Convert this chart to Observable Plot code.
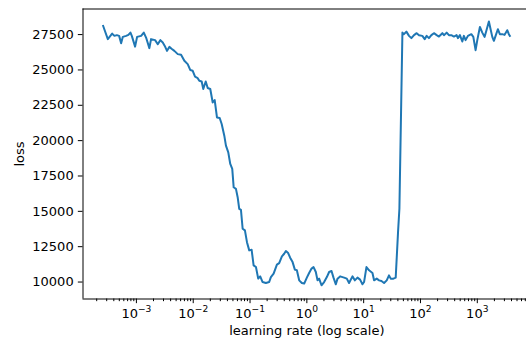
<!DOCTYPE html>
<html>
<head>
<meta charset="utf-8">
<script src="https://cdn.jsdelivr.net/npm/d3@7"></script>
<script src="https://cdn.jsdelivr.net/npm/@observablehq/plot@0.6"></script>
<style>
  html, body { margin: 0; padding: 0; background: #fff; }
  #chart { width: 526px; height: 349px; overflow: hidden; }
  #chart svg { overflow: hidden; }
</style>
</head>
<body>
<div id="chart"></div>
<script>
// Learning-rate range test: learning rate is 10 ** lrExponent.
const lrExponent = [
  -3.585, -3.503, -3.427, -3.387, -3.344, -3.304, -3.269, -3.239, -3.181, -3.141,
  -3.105, -3.081, -3.023, -2.988, -2.917, -2.870, -2.830, -2.772, -2.742, -2.671,
  -2.624, -2.578, -2.536, -2.501, -2.461, -2.420, -2.381, -2.332, -2.272, -2.214,
  -2.156, -2.097, -2.051, -2.009, -1.968, -1.921, -1.893, -1.851, -1.823, -1.780,
  -1.745, -1.700, -1.657, -1.622, -1.582, -1.534, -1.499, -1.453, -1.424, -1.383,
  -1.348, -1.313, -1.288, -1.248, -1.218, -1.190, -1.160, -1.130, -1.090, -1.054,
  -1.014, -0.972, -0.937, -0.896, -0.856, -0.821, -0.779, -0.721, -0.663, -0.633,
  -0.585, -0.527, -0.487, -0.439, -0.399, -0.369, -0.329, -0.294, -0.251, -0.211,
  -0.176, -0.135, -0.088, -0.047, 0.000, 0.040, 0.083, 0.118, 0.158, 0.188,
  0.216, 0.258, 0.304, 0.352, 0.392, 0.434, 0.469, 0.510, 0.540, 0.585,
  0.656, 0.703, 0.743, 0.803, 0.844, 0.891, 0.937, 0.979, 1.007, 1.049,
  1.095, 1.155, 1.183, 1.230, 1.271, 1.313, 1.359, 1.406, 1.446, 1.476,
  1.524, 1.564, 1.605, 1.629, 1.682, 1.710, 1.752, 1.798, 1.840, 1.886,
  1.933, 1.974, 2.033, 2.074, 2.109, 2.149, 2.192, 2.237, 2.285, 2.325,
  2.385, 2.413, 2.461, 2.501, 2.543, 2.589, 2.636, 2.659, 2.694, 2.736,
  2.764, 2.794, 2.835, 2.895, 2.930, 2.970, 3.000, 3.046, 3.088, 3.128,
  3.158, 3.204, 3.234, 3.264, 3.292, 3.322, 3.362, 3.397, 3.439, 3.480,
  3.527, 3.555, 3.573
];

const loss = [
  28110, 27180, 27570, 27410, 27460, 27410, 26890, 27340, 27410, 27480,
  27640, 27410, 26650, 27340, 27410, 27640, 27290, 26540, 27180, 27110,
  26820, 27110, 26940, 26700, 26350, 26630, 26500, 26350, 26120, 26070,
  25650, 25410, 24990, 24940, 24520, 24420, 24230, 24180, 23650, 24180,
  23720, 23650, 22700, 22870, 21640, 21600, 21180, 20350, 19650, 19170,
  18350, 18000, 16700, 16590, 16000, 15180, 15110, 13770, 13650, 12820,
  12240, 12280, 11180, 11060, 10240, 10400, 10000, 9930, 10000, 10350,
  10590, 11230, 11340, 11810, 12000, 12190, 12050, 11720, 11410, 10880,
  10830, 10120, 9930, 9890, 10310, 10640, 10950, 11060, 10710, 10120,
  10240, 9770, 10000, 10350, 10710, 10780, 10310, 9840, 10240, 10400,
  10310, 10240, 9930, 10400, 10120, 10310, 10170, 9840, 10000, 11060,
  10830, 10640, 10120, 10240, 10120, 10070, 9930, 10120, 10470, 10240,
  10240, 10310, 13530, 15180, 27640, 27530, 27710, 27410, 27250, 27460,
  27600, 27460, 27410, 27180, 27410, 27250, 27460, 27600, 27460, 27360,
  27600, 27460, 27640, 27460, 27460, 27360, 27460, 27250, 27460, 27010,
  27410, 27110, 27410, 27530, 27340, 26400, 27110, 28040, 27640, 27340,
  27760, 28420, 27880, 27340, 27060, 27410, 27880, 27530, 27530, 27480,
  27810, 27530, 27410
];

const yTickValues = [10000, 12500, 15000, 17500, 20000, 22500, 25000, 27500];
const xTickExponents = [-3, -2, -1, 0, 1, 2, 3];
const xLabel = "learning rate (log scale)";
const yLabel = "loss";

const data = lrExponent.map((e, i) => ({lr: 10 ** e, loss: loss[i]}));

const xDomain = [10 ** -3.94, 10 ** 3.94];
const yDomain = [8800, 29310];

const majorTicks = xTickExponents.map(e => 10 ** e);
const minorTicks = [];
for (let e = -4; e <= 3; e++) {
  for (let k = 2; k <= 9; k++) {
    const v = k * 10 ** e;
    if (v >= xDomain[0] && v <= xDomain[1]) minorTicks.push(v);
  }
}

const tickLen = 4.67;
const ink = "#000";

const chart = Plot.plot({
  width: 526,
  height: 349,
  marginLeft: 82.5,
  marginRight: 0,
  marginTop: 8.5,
  marginBottom: 50.5,
  style: {fontFamily: "'DejaVu Sans', sans-serif", fontSize: "13px", background: "white", color: ink},
  // the axes run a little past the right edge of the picture
  x: {type: "log", domain: xDomain, range: [82.5, 530.2]},
  y: {domain: yDomain},
  marks: [
    Plot.axisY({
      ticks: yTickValues, tickSize: tickLen, tickPadding: tickLen,
      tickFormat: d => String(d), label: null, stroke: ink, fill: ink
    }),
    Plot.axisX({
      ticks: minorTicks, tickSize: 2.67, tickFormat: () => "", label: null, stroke: ink
    }),
    Plot.axisX({
      ticks: majorTicks, tickSize: tickLen, tickPadding: 5.4,
      tickFormat: d => "10^" + Math.round(Math.log10(d)), label: null, stroke: ink, fill: ink
    }),
    // left, top and bottom spines
    Plot.ruleX([xDomain[0]], {stroke: ink, strokeWidth: 1}),
    Plot.ruleY(yDomain, {x1: xDomain[0], x2: xDomain[1], stroke: ink, strokeWidth: 1}),
    Plot.line(data, {
      x: "lr", y: "loss", stroke: "#1f77b4", strokeWidth: 2,
      strokeLinejoin: "round", strokeLinecap: "square"
    }),
    Plot.text([yLabel], {
      text: d => d, frameAnchor: "left", rotate: -90, dx: -63.5,
      textAnchor: "middle", lineAnchor: "middle", fill: ink, fontSize: 13
    }),
    Plot.text([xLabel], {
      text: d => d, frameAnchor: "bottom", dx: 2.1, dy: 31.8,
      textAnchor: "middle", lineAnchor: "middle", fill: ink, fontSize: 13
    })
  ]
});

// Render "10^n" tick labels as a base with a raised exponent.
d3.select(chart).selectAll("text").each(function () {
  const t = this.textContent;
  const m = /^10\^(-?\d+)$/.exec(t);
  if (!m) return;
  const exp = m[1].replace("-", "\u2212");
  const sel = d3.select(this);
  sel.text("10");
  sel.append("tspan").attr("dy", -6).attr("font-size", "9.1px").text(exp);
});

document.getElementById("chart").append(chart);
</script>
</body>
</html>
